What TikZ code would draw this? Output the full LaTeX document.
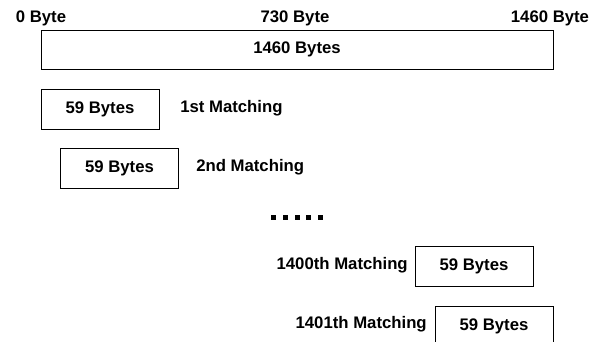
\documentclass[tikz,border=0pt]{standalone}
\usepackage{fontspec}
\setmainfont{Liberation Sans}
\begin{document}
\begin{tikzpicture}[x=0.025cm, y=-0.025cm, font=\fontsize{11.9}{13}\selectfont\bfseries,
          box/.style={draw, line width=0.6pt, inner sep=0pt, minimum height=1cm},
          seg/.style={box, minimum width=2.95cm},
          whole/.style={box, minimum width=12.8cm, minimum height=0.975cm},
          lbl/.style={inner sep=0pt}]
        \useasboundingbox (0,0) rectangle (600,342);
        \clip (0,0) rectangle (600,342);
        % byte offsets above the packet
        \node[whole] (pkt) at (297,49.5) {1460 Bytes};
        \node[lbl] (off0) at (41,18) {0 Byte};
        \node[lbl] (offmid) at (295,18) {730 Byte};
        \node[lbl] (offend) at (550,18) {1460 Byte};
        % sliding 59-byte windows
        \node[seg] (win1) at (100,109) {59 Bytes};
        \node[lbl, anchor=west] (m1) at (180,108) {1st Matching};
        \node[seg] (win2) at (119.5,168.5) {59 Bytes};
        \node[lbl, anchor=west] (m2) at (196,167) {2nd Matching};
        \foreach \i in {0,...,4}
          \fill (271+11.75*\i,214.5) rectangle ++(5,5);
        \node[seg] (win3) at (474,266) {59 Bytes};
        \node[lbl, anchor=east] (m3) at (408,265) {1400th Matching};
        \node[seg] (win4) at (494,326) {59 Bytes};
        \node[lbl, anchor=east] (m4) at (427,324) {1401th Matching};
      \end{tikzpicture}
\end{document}
